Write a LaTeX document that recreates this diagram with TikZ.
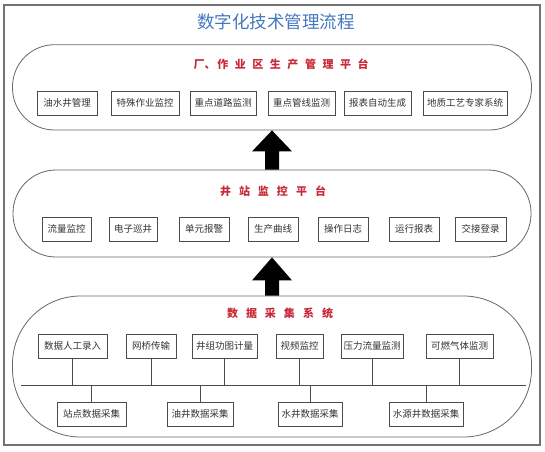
\documentclass[tikz,border=0pt]{standalone}
\usepackage{fontspec}
\newfontfamily\cjk{Noto Sans CJK SC}
\usetikzlibrary{calc}
\definecolor{titleblue}{RGB}{70,120,190}
\definecolor{titlered}{RGB}{200,40,55}
\begin{document}
\begin{tikzpicture}[x=1pt,y=-1pt,
  box/.style={draw=black!70, line width=0.9pt, minimum height=24pt, inner sep=0pt,
    font=\cjk\fontsize{9.5}{11}\selectfont, text=black!80},
  pill/.style={draw=black!60, line width=0.8pt, inner sep=0pt},
  ptitle/.style={text=titlered, font=\cjk\bfseries\fontsize{11}{13}\selectfont},
  link/.style={draw=black!70, line width=0.9pt},
  bigarrow/.style={fill=black}]
\useasboundingbox (0,0) rectangle (545,451);
\draw[black!55, line width=1.2pt] (4,5) rectangle (540,445);

\node[font=\cjk\fontsize{17.5}{20}\selectfont, text=titleblue] (title) at (276,22) {数字化技术管理流程};

% pills
\node[pill, minimum width=519pt, minimum height=85.3pt, rounded corners=42pt] (p1) at (272,87.35) {};
\node[pill, minimum width=518pt, minimum height=87pt, rounded corners=43pt] (p2) at (272,213.5) {};
\node[pill, minimum width=519pt, minimum height=141pt, rounded corners=68pt] (p3) at (272,366.5) {};

% titles
\node[ptitle] (t1) at (281,64) {厂、\hspace{2pt}作\hspace{6.5pt}业\hspace{6.5pt}区\hspace{6.5pt}生\hspace{6.5pt}产\hspace{6.5pt}管\hspace{6.5pt}理\hspace{6.5pt}平\hspace{6.5pt}台};
\node[ptitle] (t2) at (273,191) {井\hspace{8pt}站\hspace{8pt}监\hspace{8pt}控\hspace{8pt}平\hspace{8pt}台};
\node[ptitle] (t3) at (280,313) {数\hspace{8pt}据\hspace{8pt}采\hspace{8pt}集\hspace{8pt}系\hspace{8pt}统};

% row 1
\node[box, minimum width=60pt] (a1) at (67,103) {油水井管理};
\node[box, minimum width=68pt] (a2) at (145,103) {特殊作业监控};
\node[box, minimum width=66pt] (a3) at (223,103) {重点道路监测};
\node[box, minimum width=67pt] (a4) at (301.5,103) {重点管线监测};
\node[box, minimum width=67pt] (a5) at (377.5,103) {报表自动生成};
\node[box, minimum width=84pt] (a6) at (465,103) {地质工艺专家系统};

% row 2
\node[box, minimum width=49pt] (b1) at (66.5,229) {流量监控};
\node[box, minimum width=48pt] (b2) at (133,229) {电子巡井};
\node[box, minimum width=50pt] (b3) at (204,229) {单元报警};
\node[box, minimum width=50pt] (b4) at (273,229) {生产曲线};
\node[box, minimum width=50pt] (b5) at (343,229) {操作日志};
\node[box, minimum width=50pt] (b6) at (414,229) {运行报表};
\node[box, minimum width=51pt] (b7) at (480.5,229) {交接登录};

% row 3 top
\node[box, minimum width=69pt] (c1) at (72.5,346) {数据人工录入};
\node[box, minimum width=50pt] (c2) at (151,346) {网桥传输};
\node[box, minimum width=65pt] (c3) at (224.5,346) {井组功图计量};
\node[box, minimum width=47pt] (c4) at (299.5,346) {视频监控};
\node[box, minimum width=62pt] (c5) at (372,346) {压力流量监测};
\node[box, minimum width=67pt] (c6) at (459.5,346) {可燃气体监测};

% row 3 bottom
\node[box, minimum width=69pt] (d1) at (91.5,414) {站点数据采集};
\node[box, minimum width=66pt] (d2) at (200,414) {油井数据采集};
\node[box, minimum width=64pt] (d3) at (310,414) {水井数据采集};
\node[box, minimum width=74pt] (d4) at (426,414) {水源井数据采集};

% bus
\coordinate (busL) at (21,385);
\coordinate (busR) at (526,385);
\draw[link] (busL) -- (busR);
\foreach \n in {c1,c2,c3,c4,c5,c6} \draw[link] (\n.south) -- (\n.south |- busL);
\foreach \n in {d1,d2,d3,d4} \draw[link] (\n.north) -- (\n.north |- busL);

% big arrows
\fill[bigarrow] (p1.south) -- ($(p1.south)+(20,21)$) -- ($(p1.south)+(7,21)$) -- ($(p2.north)+(7,0)$)
  -- ($(p2.north)+(-7,0)$) -- ($(p1.south)+(-7,21)$) -- ($(p1.south)+(-20,21)$) -- cycle;
\fill[bigarrow] (p2.south) -- ($(p2.south)+(20,23)$) -- ($(p2.south)+(7,23)$) -- ($(p3.north)+(7,0)$)
  -- ($(p3.north)+(-7,0)$) -- ($(p2.south)+(-7,23)$) -- ($(p2.south)+(-20,23)$) -- cycle;
\end{tikzpicture}
\end{document}
